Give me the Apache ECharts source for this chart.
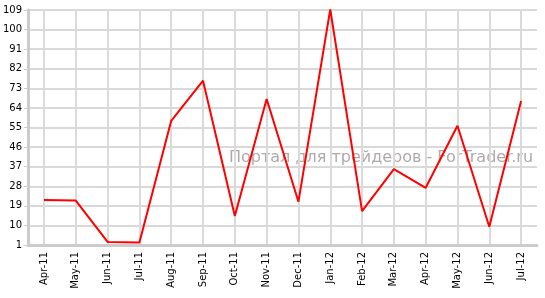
<!DOCTYPE html>
<html><head><meta charset="utf-8">
<script src="https://cdn.jsdelivr.net/npm/echarts@6/dist/echarts.min.js"></script>
<style>html,body{margin:0;padding:0;background:#fff}#c{width:545px;height:298px}</style>
</head><body><div id="c"></div>
<script>
var categories = ["Apr-11","May-11","Jun-11","Jul-11","Aug-11","Sep-11","Oct-11","Nov-11","Dec-11","Jan-12","Feb-12","Mar-12","Apr-12","May-12","Jun-12","Jul-12"];
var values = [21.7, 21.4, 2.4, 2.1, 58.1, 76.5, 14.3, 68.1, 20.9, 109.3, 16.6, 35.9, 27.3, 55.8, 9.4, 67.2];
var yMin = 1, yMax = 109, yStep = 9;
var watermark = "Портал для трейдеров - ForTrader.ru";

var chart = echarts.init(document.getElementById('c'), null, {renderer: 'canvas'});
chart.setOption({
  animation: false,
  backgroundColor: '#fff',
  grid: {left: 26, right: 8, top: 10, bottom: 53, containLabel: false},
  xAxis: {
    type: 'category', data: categories, boundaryGap: true,
    axisLine: {lineStyle: {color: '#cccccc', width: 3}},
    axisTick: {alignWithLabel: true, length: 5, lineStyle: {color: '#cccccc', width: 1}},
    axisLabel: {rotate: 90, interval: 0, color: '#000', fontFamily: 'DejaVu Sans', fontSize: 10, margin: 7},
    splitLine: {show: true, alignWithLabel: true, lineStyle: {color: '#dadada', width: 2}}
  },
  yAxis: {
    type: 'value', min: yMin, max: yMax, interval: yStep,
    axisLine: {show: true, lineStyle: {color: '#cccccc', width: 3}},
    axisTick: {show: true, length: 4, lineStyle: {color: '#cccccc'}},
    axisLabel: {color: '#000', fontFamily: 'DejaVu Sans', fontSize: 10, margin: 6},
    splitLine: {show: true, lineStyle: {color: '#cccccc', width: 1.5}}
  },
  graphic: [{
    type: 'text', left: 229, top: 150, z: -10,
    style: {text: watermark, fill: 'rgba(150,140,140,0.75)', font: '16px "DejaVu Sans"'}
  }],
  series: [{
    type: 'line', data: values, z: 10,
    symbol: 'none', lineStyle: {color: '#ff0000', width: 2},
    itemStyle: {color: '#ff0000'}
  }]
});
</script></body></html>
